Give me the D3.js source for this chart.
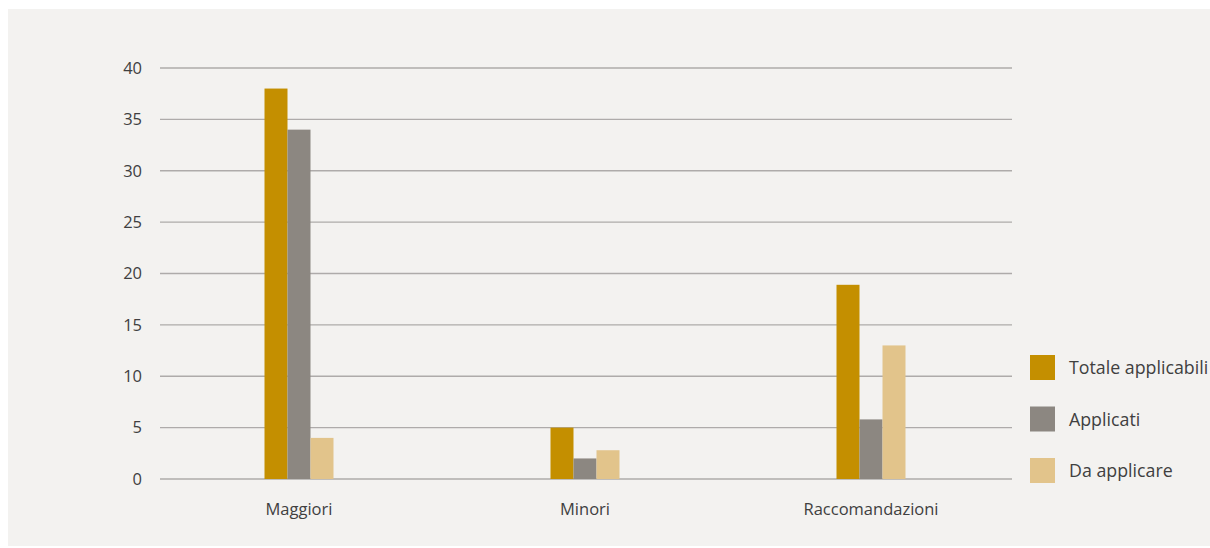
<!DOCTYPE html>
<meta charset="utf-8">
<script src="https://d3js.org/d3.v7.min.js"></script>
<style>
  body { margin: 0; background: #fff; }
</style>
<div id="chart"></div>
<script>
// categories and series
var categories = ["Maggiori", "Minori", "Raccomandazioni"];
var seriesNames = ["Totale applicabili", "Applicati", "Da applicare"];
var totale = [38, 5, 18.9];
var applicati = [34, 2, 5.8];
var daApplicare = [4, 2.8, 13];
var yTicks = [0, 5, 10, 15, 20, 25, 30, 35, 40];
var colors = ["#c48f00", "#8c8781", "#e2c48b"];

var seriesValues = [totale, applicati, daApplicare];

var W = 1210, H = 548;
var svg = d3.select("#chart").append("svg")
  .attr("width", W)
  .attr("height", H);

// panel background
svg.append("rect")
  .attr("x", 8).attr("y", 9)
  .attr("width", W - 8).attr("height", 537)
  .attr("fill", "#f3f2f0");

var x = d3.scaleBand()
  .domain(categories)
  .range([156, 1014]);

var xs = d3.scaleBand()
  .domain(seriesNames)
  .range([0, 69]);

var y = d3.scaleLinear()
  .domain([0, 40])
  .range([479, 68]);

// grid lines
svg.append("g")
  .selectAll("line")
  .data(yTicks)
  .join("line")
    .attr("x1", 160).attr("x2", 1012)
    .attr("y1", function(d) { return y(d); })
    .attr("y2", function(d) { return y(d); })
    .attr("stroke", "#aeabaa")
    .attr("stroke-width", 1.3);

// y axis labels
var yAxis = svg.append("g")
  .attr("transform", "translate(150,0)")
  .call(d3.axisLeft(y).tickValues(yTicks).tickSize(0).tickPadding(8));
yAxis.select(".domain").remove();
yAxis.selectAll("text")
  .style("font-family", "'Open Sans', sans-serif")
  .style("font-size", "16.5px")
  .attr("fill", "#404040");

// bars
seriesNames.forEach(function(name, si) {
  svg.append("g")
    .selectAll("rect")
    .data(categories)
    .join("rect")
      .attr("x", function(c) { return x(c) + x.bandwidth() / 2 - 34.5 + xs(name); })
      .attr("y", function(c, i) { return y(seriesValues[si][i]); })
      .attr("width", xs.bandwidth())
      .attr("height", function(c, i) { return y(0) - y(seriesValues[si][i]); })
      .attr("fill", colors[si]);
});

// x axis labels
var xAxis = svg.append("g")
  .attr("transform", "translate(0,479)")
  .call(d3.axisBottom(x).tickSize(0).tickPadding(24));
xAxis.select(".domain").remove();
xAxis.selectAll("text")
  .style("font-family", "'Open Sans', sans-serif")
  .style("font-size", "16.5px")
  .attr("fill", "#404040");

// legend
var legend = svg.append("g")
  .selectAll("g")
  .data(seriesNames)
  .join("g")
    .attr("transform", function(d, i) { return "translate(1030," + (355 + i * 51.5) + ")"; });

legend.append("rect")
  .attr("width", 25).attr("height", 25)
  .attr("fill", function(d, i) { return colors[i]; });

legend.append("text")
  .attr("x", 39).attr("y", 13)
  .attr("dy", "0.35em")
  .style("font-family", "'Open Sans', sans-serif")
  .style("font-size", "17.8px")
  .attr("fill", "#404040")
  .text(function(d) { return d; });
</script>
